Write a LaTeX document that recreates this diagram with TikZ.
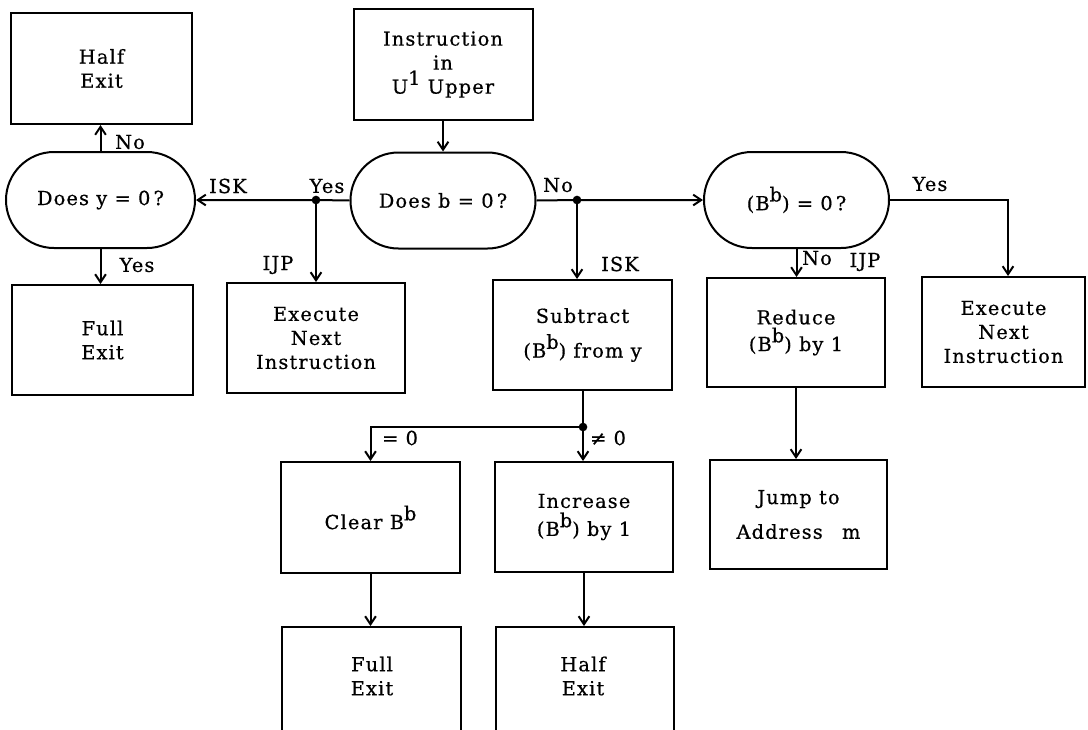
\documentclass[tikz,border=0pt]{standalone}
\usepackage{fontspec}
\setmainfont{DejaVu Serif}[LetterSpace=6,FakeBold=0.6]
\usetikzlibrary{arrows.meta,shapes.misc}
% raised index letter, as in (B^b)
\newcommand\hi[1]{\raisebox{0.45em}{#1}}
\tikzset{
  txt/.style={font=\fontsize{14.5pt}{18pt}\selectfont, align=center, inner sep=0pt},
  box/.style={txt, draw, line width=1.5pt, rectangle,
              minimum width={179*0.75pt}, minimum height={110*0.75pt}},
  test/.style={txt, draw, line width=1.5pt, rounded rectangle,
               minimum width={185*0.75pt}, minimum height={96*0.75pt}},
  lbl/.style={txt},
  dot/.style={circle, fill, inner sep=0pt, minimum size=6.5pt},
  line/.style={line width=1.5pt},
  arr/.style={line, -{Straight Barb[length=6pt,width=8pt,line width=1.5pt]}}
}
\begin{document}
\begin{tikzpicture}[x=0.75pt,y=-0.75pt]
\useasboundingbox (0,0) rectangle (1088,729);
\clip (0,0) rectangle (1088,729);

% decisions
\node[test, minimum width={189*0.75pt}] (dy) at (100.5,200) {Does y = 0\,?};
\node[test] (dB) at (443,200.5) {Does b = 0\,?};
\node[test] (bb) at (796.5,200) {(B\hi{b}) = 0\,?};

% process boxes
\node[box, minimum width={181*0.75pt}, minimum height={111*0.75pt}] (he1) at (101.5,68.5) {Half\\Exit};
\node[box, minimum height={111*0.75pt}] (inst) at (443,64.5) {Instruction\\in\\U\hi{1} Upper};
\node[box, minimum width={181*0.75pt}] (fe1) at (102.5,340) {Full\\Exit};
\node[box, minimum width={178*0.75pt}] (ex1) at (316,338) {Execute\\Next\\Instruction};
\node[box] (sub) at (582.5,335) {Subtract\\[8pt](B\hi{b}) from y};
\node[box, minimum width={178*0.75pt}, minimum height={109*0.75pt}] (red) at (796,332.5) {Reduce\\[2pt](B\hi{b}) by 1};
\node[box, minimum width={163*0.75pt}] (ex2) at (1003.5,332) {Execute\\Next\\Instruction};
\node[box, minimum height={111*0.75pt}] (clr) at (370.5,517.5) {Clear B\hi{b}};
\node[box, minimum width={178*0.75pt}] (inc) at (584,517) {Increase\\[3pt](B\hi{b}) by 1};
\node[box, minimum width={177*0.75pt}, minimum height={109*0.75pt}] (jmp) at (798.5,514.5) {Jump to\\[8pt]Address\quad m};

% exit boxes running off the bottom edge
\node[box, minimum height={118*0.75pt}] (fe2) at (371.5,686) {};
\node[txt] (fe2t) at (372,676) {Full\\Exit};
\node[box, minimum width={178*0.75pt}, minimum height={118*0.75pt}] (he2) at (585,686) {};
\node[txt] (he2t) at (583,676) {Half\\Exit};

% branch points
\node[dot] (j1) at (316,200) {};
\node[dot] (j2) at (577,200) {};
\node[dot] (j3) at (583,427) {};
\coordinate (c1) at (1008,200);

% connectors
\draw[arr] (inst.south) -- (dB.north);
\draw[arr] (dB.west) -- (j1.center) -- (j1.center -| dy.east);
\draw[arr] (j1.center) -- (j1.center |- ex1.north);
\draw[arr] (dy.north) -- (dy.north |- he1.south);
\draw[arr] (dy.south) -- (dy.south |- fe1.north);
\draw[arr] (dB.east) -- (j2.center) -- (j2.center -| bb.west);
\draw[arr] (j2.center) -- (j2.center |- sub.north);
\draw[line] (j3.center |- sub.south) -- (j3.center);
\draw[arr] (j3.center) -- (j3.center -| clr.north) -- (clr.north);
\draw[arr] (j3.center) -- (j3.center |- inc.north);
\draw[arr] (clr.south) -- (clr.south |- fe2.north);
\draw[arr] (inc.south) -- (inc.south |- he2.north);
\draw[arr] (bb.south) -- (bb.south |- red.north);
\draw[arr] (red.south) -- (red.south |- jmp.north);
\draw[arr] (bb.east) -- (c1) -- (c1 |- ex2.north);

% branch labels
\node[lbl] (lno1) at (130,142) {No};
\node[lbl] (lisk1) at (228,186) {ISK};
\node[lbl] (lyes1) at (327,186) {Yes};
\node[lbl] (lyes2) at (137,265) {Yes};
\node[lbl] (lijp1) at (278,265) {IJP};
\node[lbl] (lno2) at (558,185) {No};
\node[lbl] (lisk2) at (620,264) {ISK};
\node[lbl] (lyes3) at (930,184) {Yes};
\node[lbl] (lno3) at (817,258) {No};
\node[lbl] (lijp2) at (865,262) {IJP};
\node[lbl] (leq) at (400,438) {= 0};
\node[lbl] (lne) at (608,438) {≠ 0};
\end{tikzpicture}
\end{document}
